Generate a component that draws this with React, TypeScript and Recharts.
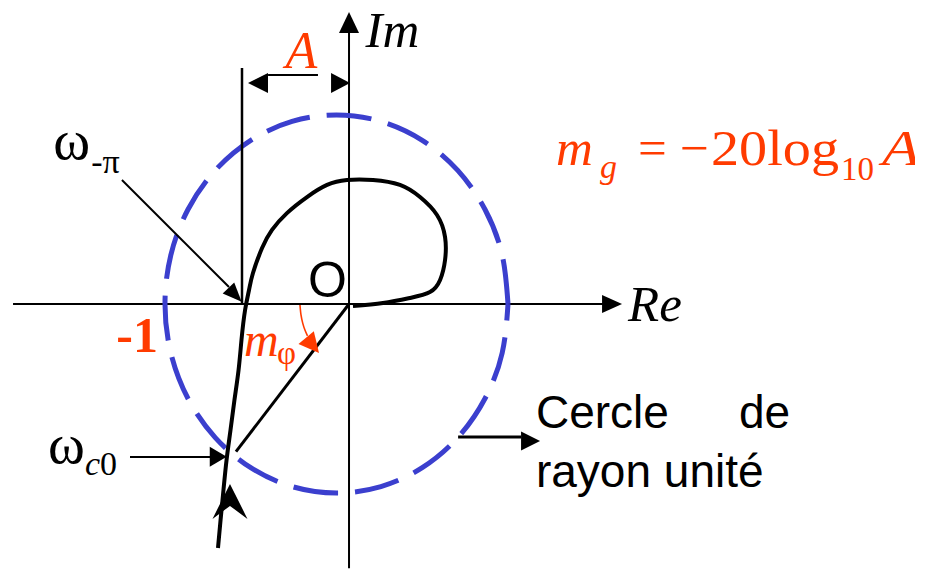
import { ComposedChart, Line, Scatter, XAxis, YAxis } from "recharts";

type Pt = { x: number; y: number };

const SERIF = '"Liberation Serif", "Times New Roman", serif';
const SANS = '"Liberation Sans", Arial, sans-serif';
const ORANGE = "#ff3b00";
const BLUE = "#3b3fce";

// Nyquist locus (Re, Im), unit circle scale
const nyquistRe = [
  -0.764, -0.749, -0.732, -0.714, -0.691, -0.668, -0.644, -0.627, -0.606, -0.583,
  -0.56, -0.507, -0.449, -0.362, -0.245, -0.128, -0.012, 0.14, 0.297, 0.414,
  0.513, 0.56, 0.56, 0.531, 0.472, 0.356, 0.198, 0.023,
];
const nyquistIm = [
  -1.291, -1.143, -0.984, -0.825, -0.667, -0.508, -0.349, -0.19, -0.032, 0.074,
  0.164, 0.296, 0.392, 0.481, 0.566, 0.63, 0.656, 0.656, 0.63, 0.566,
  0.471, 0.354, 0.233, 0.127, 0.063, 0.032, 0.005, -0.011,
];

// unit circle as drawn (its centre sits a little left of O)
const circleRe = [
  0.927, 0.893, 0.793, 0.634, 0.427, 0.186, -0.073, -0.332, -0.573, -0.78, -0.939, -1.039, -1.073,
  -1.039, -0.939, -0.78, -0.573, -0.332, -0.073, 0.186, 0.427, 0.634, 0.793, 0.893, 0.927,
];
const circleIm = [
  0, 0.259, 0.5, 0.707, 0.866, 0.966, 1, 0.966, 0.866, 0.707, 0.5, 0.259, 0,
  -0.259, -0.5, -0.707, -0.866, -0.966, -1, -0.966, -0.866, -0.707, -0.5, -0.259, 0,
];

// phase margin arc
const phiArcRe = [-0.286, -0.28, -0.27, -0.257, -0.242];
const phiArcIm = [-0.005, -0.058, -0.101, -0.138, -0.169];

const zip = (re: number[], im: number[]): Pt[] => re.map((x, i) => ({ x, y: im[i] }));

const nyquist = zip(nyquistRe, nyquistIm);
const circle = zip(circleRe, circleIm);
const phiArc = zip(phiArcRe, phiArcIm);

// straight strokes
const reAxis: Pt[] = [{ x: -1.959, y: 0 }, { x: 1.5, y: 0 }];
const imAxis: Pt[] = [{ x: 0, y: -1.4 }, { x: 0, y: 1.45 }];
const gainLine: Pt[] = [{ x: -0.624, y: 0 }, { x: -0.624, y: 1.249 }];
const gainDim: Pt[] = [{ x: -0.472, y: 1.212 }, { x: -0.181, y: 1.212 }];
const wPiLine: Pt[] = [{ x: -1.324, y: 0.656 }, { x: -0.7, y: 0.09 }];
const wC0Line: Pt[] = [{ x: -1.277, y: -0.81 }, { x: -0.81, y: -0.81 }];
const phiRadius: Pt[] = [{ x: 0, y: 0 }, { x: -0.659, y: -0.781 }];
const circleNote: Pt[] = [{ x: 0.636, y: -0.704 }, { x: 1.003, y: -0.704 }];

// arrow tips
const reTip = [{ x: 1.592, y: 0 }];
const imTip = [{ x: 0, y: 1.545 }];
const dimLeftTip = [{ x: -0.589, y: 1.169 }];
const dimRightTip = [{ x: 0.006, y: 1.169 }];
const wPiTip = [{ x: -0.626, y: 0.012 }];
const wC0Tip = [{ x: -0.713, y: -0.808 }];
const noteTip = [{ x: 1.114, y: -0.725 }];
const phiTip = [{ x: -0.175, y: -0.259 }];
const nyquistTip = [{ x: -0.694, y: -0.952 }];

// text anchors
const imLabel = [{ x: 0.096, y: 1.361, text: "Im" }];
const reLabel = [{ x: 1.627, y: -0.09, text: "Re" }];
const aLabel = [{ x: -0.37, y: 1.247, text: "A" }];
const formulaLabel = [{ x: 1.207, y: 0.735 }];
const originLabel = [{ x: -0.239, y: 0.037, text: "O" }];
const minusOneLabel = [{ x: -1.357, y: -0.254, text: "-1" }];
const wPiLabel = [{ x: -1.725, y: 0.767, main: "ω", sub: ["-π"] }];
const wC0Label = [{ x: -1.755, y: -0.841, main: "ω", sub: ["c", "0"] }];
const mPhiLabel = [{ x: -0.612, y: -0.275, main: "m", sub: ["φ"] }];
const noteLabel = [{ x: 1.09, y: -0.656, lines: ["Cercle", "de", "rayon unité"] }];

function arrowHead(angle: number, len: number, wid: number, fill: string, notch = 0) {
  return (p: any) => {
    const pts = notch
      ? [[0, 0], [-len, -wid / 2], [-len + notch, 0], [-len, wid / 2]]
      : [[0, 0], [-len, -wid / 2], [-len, wid / 2]];
    return (
      <polygon
        points={pts.map((q) => q.join(",")).join(" ")}
        transform={`translate(${p.cx},${p.cy}) rotate(${angle})`}
        fill={fill}
      />
    );
  };
}

const plainText =
  (size: number, family: string, fill: string, style = "normal", weight = "normal") =>
  (p: any) => (
    <text x={p.cx} y={p.cy} fontSize={size} fontFamily={family} fill={fill} fontStyle={style} fontWeight={weight}>
      {p.payload.text}
    </text>
  );

// main glyph + subscript; the first subscript piece takes subStyle, the rest are upright
const subText =
  (size: number, subSize: number, subDx: number, subDy: number, fill: string, mainStyle: string, subStyle: string) =>
  (p: any) => (
    <g fill={fill} fontFamily={SERIF}>
      <text x={p.cx} y={p.cy} fontSize={size} fontStyle={mainStyle}>
        {p.payload.main}
      </text>
      <text x={p.cx + subDx} y={p.cy + subDy} fontSize={subSize}>
        {p.payload.sub.map((s: string, i: number) => (
          <tspan key={i} fontStyle={i === 0 ? subStyle : "normal"}>
            {s}
          </tspan>
        ))}
      </text>
    </g>
  );

function Formula(p: any) {
  const { cx, cy } = p;
  return (
    <g fill={ORANGE} fontFamily={SERIF}>
      <text x={cx} y={cy} fontSize={51} fontStyle="italic">m</text>
      <text x={cx + 44} y={cy + 13} fontSize={34} fontStyle="italic">g</text>
      <text x={cx + 82} y={cy} fontSize={51}>=</text>
      <text x={cx + 124} y={cy} fontSize={51} textLength={29} lengthAdjust="spacingAndGlyphs">−</text>
      <text x={cx + 155} y={cy} fontSize={51} textLength={128} lengthAdjust="spacingAndGlyphs">20log</text>
      <text x={cx + 285} y={cy + 15} fontSize={34} textLength={33} lengthAdjust="spacingAndGlyphs">10</text>
      <text x={cx + 326} y={cy} fontSize={51} fontStyle="italic" textLength={38} lengthAdjust="spacingAndGlyphs">A</text>
    </g>
  );
}

function Note(p: any) {
  const [a, b, c] = p.payload.lines;
  return (
    <g fill="#000" fontFamily={SANS} fontSize={46}>
      <text x={p.cx} y={p.cy}>{a}</text>
      <text x={p.cx + 203} y={p.cy}>{b}</text>
      <text x={p.cx} y={p.cy + 59}>{c}</text>
    </g>
  );
}

const seg = (data: Pt[], stroke: string, width: number, key: string, extra: any = {}) => (
  <Line
    key={key}
    data={data}
    dataKey="y"
    type="linear"
    stroke={stroke}
    strokeWidth={width}
    dot={false}
    activeDot={false}
    isAnimationActive={false}
    {...extra}
  />
);

const mark = (data: any[], shape: any, key: string) => (
  <Scatter key={key} data={data} shape={shape} isAnimationActive={false} />
);

export default function App() {
  return (
    <div style={{ position: "absolute", left: 0, top: 0, width: 928, height: 569, background: "#fff" }}>
      <ComposedChart width={928} height={569} margin={{ top: 1.6, right: 13, bottom: 0.4, left: 6 }}>
        <XAxis type="number" dataKey="x" domain={[-2, 3.3]} allowDataOverflow hide />
        <YAxis type="number" dataKey="y" domain={[-1.4, 1.6]} allowDataOverflow hide />

        {seg(reAxis, "#000", 2, "re")}
        {seg(imAxis, "#000", 2, "im")}
        {seg(circle, BLUE, 5, "circle", { type: "natural", strokeDasharray: "45 17" })}
        {seg(gainLine, "#000", 2.5, "gain")}
        {seg(gainDim, "#000", 2, "dim")}
        {seg(wPiLine, "#000", 2, "wpi")}
        {seg(wC0Line, "#000", 2, "wc0")}
        {seg(phiRadius, "#000", 3, "radius")}
        {seg(circleNote, "#000", 3, "note")}
        {seg(phiArc, ORANGE, 1.6, "arc", { type: "natural" })}
        {seg(nyquist, "#000", 4, "nyquist", { type: "natural", strokeLinejoin: "round" })}

        {mark(reTip, arrowHead(0, 20, 18, "#000"), "reTip")}
        {mark(imTip, arrowHead(-90, 21, 20, "#000"), "imTip")}
        {mark(dimLeftTip, arrowHead(180, 20, 20, "#000"), "dl")}
        {mark(dimRightTip, arrowHead(0, 19, 20, "#000"), "dr")}
        {mark(wPiTip, arrowHead(46, 19, 16, "#000"), "wpiTip")}
        {mark(wC0Tip, arrowHead(0, 17, 20, "#000"), "wc0Tip")}
        {mark(noteTip, arrowHead(0, 19, 19, "#000"), "noteTip")}
        {mark(phiTip, arrowHead(50, 20, 20, ORANGE), "phiTip")}
        {mark(nyquistTip, arrowHead(-90, 35, 35, "#000", 13), "nyqTip")}

        {mark(imLabel, plainText(51, SERIF, "#000", "italic"), "imL")}
        {mark(reLabel, plainText(51, SERIF, "#000", "italic"), "reL")}
        {mark(aLabel, plainText(52, SERIF, ORANGE, "italic"), "aL")}
        {mark(originLabel, plainText(50, SANS, "#000"), "oL")}
        {mark(minusOneLabel, plainText(50, SERIF, ORANGE, "normal", "bold"), "m1L")}
        {mark(formulaLabel, Formula, "formula")}
        {mark(wPiLabel, subText(56, 34, 38, 14, "#000", "normal", "normal"), "wpiL")}
        {mark(wC0Label, subText(56, 34, 37, 12, "#000", "normal", "italic"), "wc0L")}
        {mark(mPhiLabel, subText(48, 33, 33, 8, ORANGE, "italic", "normal"), "mphiL")}
        {mark(noteLabel, Note, "noteL")}
      </ComposedChart>
    </div>
  );
}
